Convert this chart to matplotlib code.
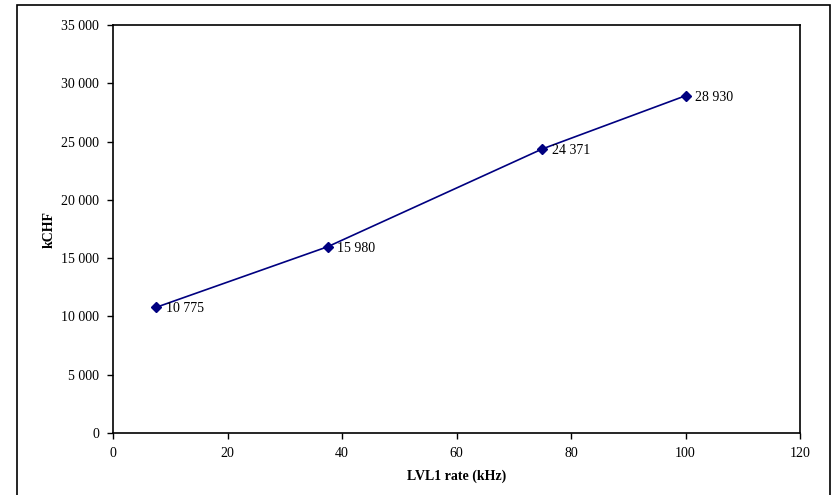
import matplotlib.pyplot as plt
from matplotlib.patches import Rectangle
from matplotlib.ticker import FuncFormatter, MultipleLocator

rate_khz = [7.5, 37.5, 75, 100]
cost_kchf = [10775, 15980, 24371, 28930]

def fmt_thousands(v):
    return f"{int(round(v)):,}".replace(",", " ")

plt.rcParams['font.family'] = ['Liberation Serif', 'DejaVu Serif']

fig = plt.figure(figsize=(8.32, 4.95), dpi=100)
# outer chart border
fig.patches.append(Rectangle((17 / 832, -0.01), (830 - 17) / 832, (490 - 0) / 495 + 0.01,
                             transform=fig.transFigure, fill=False, edgecolor='black',
                             linewidth=1.2))

ax = fig.add_axes([113 / 832, 62 / 495, 687 / 832, 408 / 495])
ax.plot(rate_khz, cost_kchf, color='#000080', linewidth=1.2, marker='D',
        markersize=5, markerfacecolor='#000080', markeredgecolor='#000080')
for x, y in zip(rate_khz, cost_kchf):
    ax.annotate(fmt_thousands(y), (x, y), xytext=(7, -1), textcoords='offset points',
                ha='left', va='center', fontsize=10)

ax.set_xlim(0, 120)
ax.set_ylim(0, 35000)
ax.xaxis.set_major_locator(MultipleLocator(20))
ax.yaxis.set_major_locator(MultipleLocator(5000))
ax.yaxis.set_major_formatter(FuncFormatter(lambda v, p: fmt_thousands(v)))
ax.tick_params(direction='out', length=4, width=1, labelsize=10, pad=6)
for s in ax.spines.values():
    s.set_linewidth(1.2)

ax.set_xlabel('LVL1 rate (kHz)', fontsize=10, fontweight='bold', labelpad=7)
ax.set_ylabel('kCHF', fontsize=10, fontweight='bold', labelpad=4)

fig.savefig('out.png', dpi=100)
